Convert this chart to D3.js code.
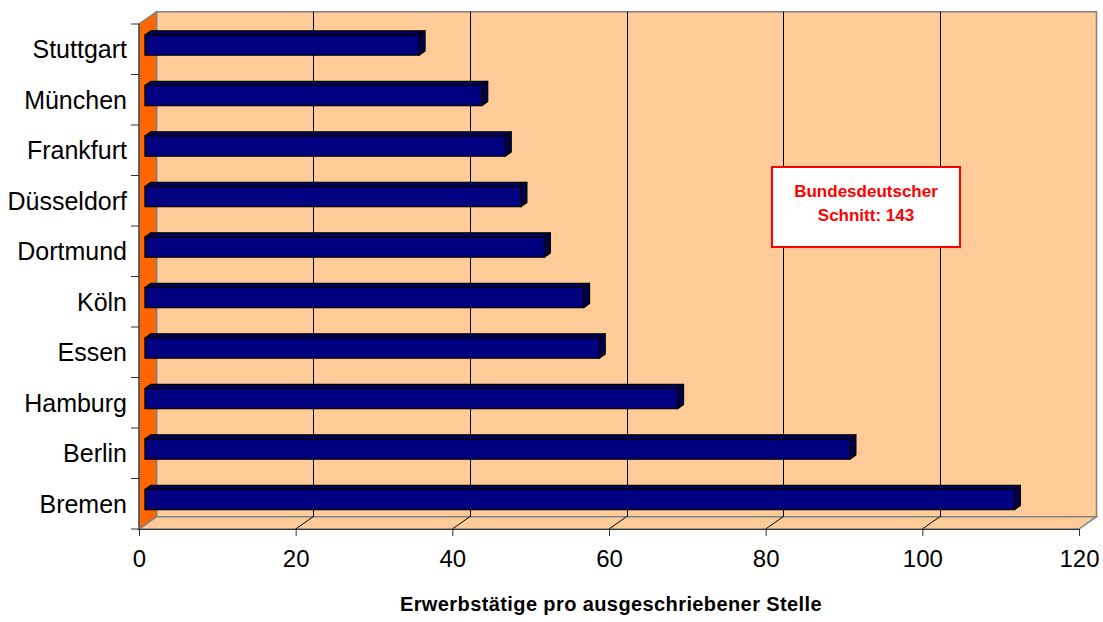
<!DOCTYPE html>
<html>
<head>
<meta charset="utf-8">
<script src="https://cdn.jsdelivr.net/npm/d3@7"></script>
<style>
  body { margin: 0; background: #fff; }
  text { font-family: "Liberation Sans", Arial, sans-serif; }
</style>
</head>
<body>
<svg id="chart"></svg>
<script>
// Data
const cities = ["Stuttgart", "München", "Frankfurt", "Düsseldorf", "Dortmund", "Köln", "Essen", "Hamburg", "Berlin", "Bremen"];
const values = [35, 43, 46, 48, 51, 56, 58, 68, 90, 111];
const xTicks = [0, 20, 40, 60, 80, 100, 120];
const axisTitle = "Erwerbstätige pro ausgeschriebener Stelle";
const noteLines = ["Bundesdeutscher", "Schnitt: 143"];

const width = 1103;
const height = 622;

// 3D depth offset of the plot box (front -> back)
const DX = 17.5;
const DY = -12.3;
// bars sit in the middle of the depth
const f0 = 0.34;
const f1 = 0.68;

const svg = d3.select("#chart")
    .attr("width", width)
    .attr("height", height)
    .attr("viewBox", [0, 0, width, height]);

const x = d3.scaleLinear().domain([0, 120]).range([139, 1079]);
const y = d3.scaleBand().domain(cities).range([24, 529]).padding(0);

const x0 = x(0), x1 = x(120);
const yTop = y.range()[0], yBot = y.range()[1];

const poly = pts => pts.map(p => p.join(",")).join(" ");

// back wall
svg.append("polygon")
    .attr("points", poly([[x0 + DX, yTop + DY], [x1 + DX, yTop + DY], [x1 + DX, yBot + DY], [x0 + DX, yBot + DY]]))
    .attr("fill", "#FFCC99")
    .attr("stroke", "#808080")
    .attr("stroke-width", 1.5);

// floor
svg.append("polygon")
    .attr("points", poly([[x0, yBot], [x1, yBot], [x1 + DX, yBot + DY], [x0 + DX, yBot + DY]]))
    .attr("fill", "#FFCC99")
    .attr("stroke", "#808080")
    .attr("stroke-width", 1.5);

// left wall
svg.append("polygon")
    .attr("points", poly([[x0, yTop], [x0 + DX, yTop + DY], [x0 + DX, yBot + DY], [x0, yBot]]))
    .attr("fill", "#FF6600")
    .attr("stroke", "#808080")
    .attr("stroke-width", 1.5);

// gridlines on back wall and floor
const inner = xTicks.filter(t => t > 0 && t < 120);
svg.append("g")
    .selectAll("line")
    .data(inner)
    .join("line")
    .attr("x1", d => Math.round(x(d) + DX) + 0.5)
    .attr("x2", d => Math.round(x(d) + DX) + 0.5)
    .attr("y1", yTop + DY)
    .attr("y2", yBot + DY)
    .attr("stroke", "#000")
    .attr("stroke-width", 1);

svg.append("g")
    .selectAll("line")
    .data(inner)
    .join("line")
    .attr("x1", d => x(d))
    .attr("y1", yBot)
    .attr("x2", d => x(d) + DX)
    .attr("y2", yBot + DY)
    .attr("stroke", "#000")
    .attr("stroke-width", 1);

// 3D bars
const barH = y.bandwidth() * 0.4;
const bars = svg.append("g")
    .selectAll("g")
    .data(cities.map((c, i) => ({ city: c, value: values[i] })))
    .join("g");

function face(d) {
    const cy = y(d.city) + y.bandwidth() / 2;
    const ox = f0 * DX, oy = f0 * DY;
    const dx = (f1 - f0) * DX, dy = (f1 - f0) * DY;
    const l = x(0) + ox, r = x(d.value) + ox;
    const t = cy - barH / 2 + oy, b = cy + barH / 2 + oy;
    return { l, r, t, b, dx, dy };
}

bars.append("polygon") // top
    .attr("points", d => { const f = face(d); return poly([[f.l, f.t], [f.r, f.t], [f.r + f.dx, f.t + f.dy], [f.l + f.dx, f.t + f.dy]]); })
    .attr("fill", "#000060")
    .attr("stroke", "#000")
    .attr("stroke-width", 1.2)
    .attr("stroke-linejoin", "round");

bars.append("polygon") // side
    .attr("points", d => { const f = face(d); return poly([[f.r, f.t], [f.r + f.dx, f.t + f.dy], [f.r + f.dx, f.b + f.dy], [f.r, f.b]]); })
    .attr("fill", "#000048")
    .attr("stroke", "#000")
    .attr("stroke-width", 1.2)
    .attr("stroke-linejoin", "round");

bars.append("rect") // front
    .attr("x", d => face(d).l)
    .attr("y", d => face(d).t)
    .attr("width", d => face(d).r - face(d).l)
    .attr("height", barH)
    .attr("fill", "#000080")
    .attr("stroke", "#000")
    .attr("stroke-width", 1.2);

// category axis
const yAxis = svg.append("g");
yAxis.append("line")
    .attr("x1", x0).attr("x2", x0)
    .attr("y1", yTop).attr("y2", yBot)
    .attr("stroke", "#333");
yAxis.selectAll("line.tick")
    .data(cities.map(c => y(c)).concat([yBot]))
    .join("line")
    .attr("class", "tick")
    .attr("x1", x0 - 8).attr("x2", x0)
    .attr("y1", d => d).attr("y2", d => d)
    .attr("stroke", "#333");
yAxis.selectAll("text")
    .data(cities)
    .join("text")
    .attr("x", 127)
    .attr("y", d => y(d) + y.bandwidth() / 2 + 9)
    .attr("text-anchor", "end")
    .attr("font-size", 25)
    .attr("fill", "#000")
    .text(d => d);

// value axis
const xAxis = d3.axisBottom(x)
    .tickValues(xTicks)
    .tickSize(7)
    .tickPadding(14)
    .tickFormat(d3.format("d"));
const gx = svg.append("g")
    .attr("transform", `translate(0,${yBot})`)
    .call(xAxis);
gx.select(".domain").attr("stroke", "#333");
gx.selectAll(".tick line").attr("stroke", "#333");
gx.selectAll(".tick text")
    .attr("font-family", "'Liberation Sans', Arial, sans-serif")
    .attr("font-size", 24)
    .attr("fill", "#000");

// axis title
svg.append("text")
    .attr("x", 611)
    .attr("y", 611)
    .attr("text-anchor", "middle")
    .attr("font-size", 20)
    .attr("font-weight", "bold")
    .attr("letter-spacing", 0.4)
    .text(axisTitle);

// note box
const note = svg.append("g");
note.append("rect")
    .attr("x", 772).attr("y", 167)
    .attr("width", 188).attr("height", 80)
    .attr("fill", "#fff")
    .attr("stroke", "#FF0000")
    .attr("stroke-width", 2);
note.selectAll("text")
    .data(noteLines)
    .join("text")
    .attr("x", 866)
    .attr("y", (d, i) => 197 + i * 24)
    .attr("text-anchor", "middle")
    .attr("font-size", 17)
    .attr("font-weight", "bold")
    .attr("fill", "#FF0000")
    .text(d => d);
</script>
</body>
</html>
